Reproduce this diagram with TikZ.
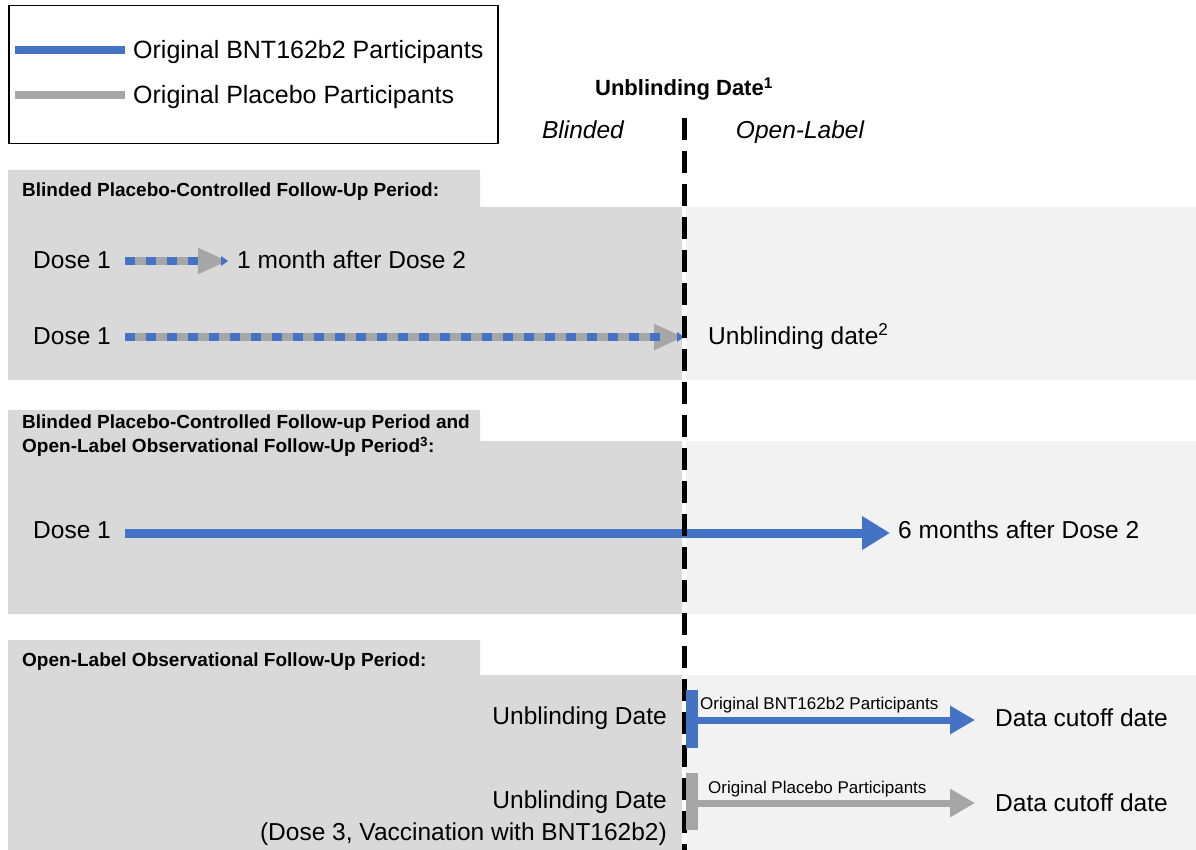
\documentclass[tikz,border=0pt]{standalone}
\usepackage{fontspec}
\setmainfont{Liberation Sans}
\usetikzlibrary{arrows.meta}
\definecolor{bntblue}{HTML}{4472C4}
\definecolor{plgrey}{HTML}{A6A6A6}
\definecolor{darkbg}{HTML}{D9D9D9}
\definecolor{lightbg}{HTML}{F2F2F2}
\begin{document}
\begin{tikzpicture}[x=1pt,y=-1pt,
  maintxt/.style={font=\fontsize{24.5}{28}\selectfont, inner sep=0pt, text height=17.5pt, text depth=0pt},
  legtxt/.style={font=\fontsize{25}{28}\selectfont, inner sep=0pt, text height=17.9pt, text depth=0pt},
  headtxt/.style={font=\bfseries\fontsize{19}{22}\selectfont, inner sep=0pt, text height=13.6pt, text depth=0pt, anchor=west},
  smalltxt/.style={font=\fontsize{17}{20}\selectfont, inner sep=0pt, text height=12.2pt, text depth=0pt},
  ittxt/.style={font=\itshape\fontsize{24.5}{28}\selectfont, inner sep=0pt, text height=17.5pt, text depth=0pt},
  darkpanel/.style={fill=darkbg, draw=none},
  lightpanel/.style={fill=lightbg, draw=none},
  bigblue/.style={draw=bntblue, line width=9pt, -{Triangle[length=28pt,width=32pt]}, color=bntblue},
  midblue/.style={draw=bntblue, line width=7pt, -{Triangle[length=25pt,width=27pt]}, color=bntblue},
  midgrey/.style={draw=plgrey, line width=7pt, -{Triangle[length=25pt,width=27pt]}, color=plgrey},
  greybase/.style={draw=plgrey, line width=8pt, -{Triangle[length=30pt,width=24pt]}, color=plgrey},
  bluedash/.style={draw=bntblue, line width=8pt, dash pattern=on 10pt off 11pt},
  bluetip/.style={fill=bntblue, draw=none},
  legline/.style={line width=8pt},
  divider/.style={draw=black, line width=5pt, dash pattern=on 22pt off 11pt}
]
\useasboundingbox (0,0) rectangle (1196,850);

% ---------- panels ----------
\fill[darkpanel] (8,170) -- (480,170) -- (480,207) -- (682,207) -- (682,380) -- (8,380) -- cycle;
\fill[lightpanel] (686,207) rectangle (1196,380);
\fill[darkpanel] (8,410) -- (480,410) -- (480,441) -- (682,441) -- (682,614) -- (8,614) -- cycle;
\fill[lightpanel] (686,441) rectangle (1196,614);
\fill[darkpanel] (8,640) -- (480,640) -- (480,675) -- (682,675) -- (682,850) -- (8,850) -- cycle;
\fill[lightpanel] (686,675) rectangle (1196,850);

% ---------- legend ----------
\node[draw=black, line width=1.5pt, minimum width=489pt, minimum height=138pt, inner sep=0pt, anchor=north west] (legend) at (8,5) {};
\coordinate (lb1) at (15,50); \coordinate (lb2) at (125,50);
\coordinate (lg1) at (15,95); \coordinate (lg2) at (125,95);
\draw[legline, bntblue] (lb1) -- (lb2);
\draw[legline, plgrey] (lg1) -- (lg2);
\node[legtxt, anchor=west] (legbnt) at (133,50) {Original BNT162b2 Participants};
\node[legtxt, anchor=west] (legpl) at (133,95) {Original Placebo Participants};

% ---------- unblinding header ----------
\node[font=\bfseries\fontsize{22}{26}\selectfont, inner sep=0pt, text height=15.8pt, text depth=0pt] (ubd) at (684,88) {Unblinding Date\textsuperscript{1}};
\node[ittxt] (blinded) at (583,130) {Blinded};
\node[ittxt] (openlabel) at (800,130) {Open-Label};

% ---------- section 1 ----------
\node[headtxt] (h1) at (22,190) {Blinded Placebo-Controlled Follow-Up Period:};
\node[maintxt, anchor=west] (d1a) at (33,260) {Dose 1};
\node[maintxt, anchor=west] (m1) at (237,260) {1 month after Dose 2};
\coordinate (a1s) at (125,261); \coordinate (a1e) at (228,261); \coordinate (a1d) at (200,261);
\draw[greybase] (a1s) -- (a1e);
\draw[bluedash] (a1s) -- (a1d);
\fill[bluetip] (a1e) -- ++(-7,-5) -- ++(0,10) -- cycle;

\node[maintxt, anchor=west] (d1b) at (33,336) {Dose 1};
\node[maintxt, anchor=west] (ub2) at (708,336) {Unblinding date\textsuperscript{2}};
\coordinate (a2s) at (125,337); \coordinate (a2e) at (684,337); \coordinate (a2d) at (660,337);
\draw[greybase] (a2s) -- (a2e);
\draw[bluedash] (a2s) -- (a2d);
\fill[bluetip] (a2e) -- ++(-7,-5) -- ++(0,10) -- cycle;

% ---------- section 2 ----------
\node[headtxt] (h2a) at (22,422) {Blinded Placebo-Controlled Follow-up Period and};
\node[headtxt] (h2b) at (22,446) {Open-Label Observational Follow-Up Period\textsuperscript{3}:};
\node[maintxt, anchor=west] (d1c) at (33,530) {Dose 1};
\node[maintxt, anchor=west] (six) at (898,530) {6 months after Dose 2};
\coordinate (a3s) at (125,533); \coordinate (a3e) at (890,533);
\draw[bigblue] (a3s) -- (a3e);

% ---------- section 3 ----------
\node[headtxt] (h3) at (22,660) {Open-Label Observational Follow-Up Period:};
\node[maintxt, anchor=east] (ubA) at (667,716) {Unblinding Date};
\node[maintxt, anchor=east] (ubB) at (667,800) {Unblinding Date};
\node[maintxt, anchor=east] (ubC) at (667,832) {(Dose 3, Vaccination with BNT162b2)};

% ---------- dashed divider ----------
\coordinate (divtop) at (684,118);
\coordinate (divbot) at (684,850);
\draw[divider] (divtop) -- (divbot);

% bars and arrows in section 3
\node[fill=bntblue, minimum width=12pt, minimum height=58pt, inner sep=0pt, anchor=north west] (barb) at (686,690) {};
\node[fill=plgrey, minimum width=12pt, minimum height=57pt, inner sep=0pt, anchor=north west] (barg) at (686,773) {};
\node[maintxt, anchor=west] (dcA) at (995,718) {Data cutoff date};
\node[maintxt, anchor=west] (dcB) at (995,803) {Data cutoff date};
\coordinate (a4e) at (975,720);
\coordinate (a5e) at (975,803);
\draw[midblue] (barb.east |- a4e) -- (a4e);
\draw[midgrey] (barg.east |- a5e) -- (a5e);
\node[smalltxt, anchor=west] (lblb) at (700,703) {Original BNT162b2 Participants};
\node[smalltxt, anchor=west] (lblg) at (708,787) {Original Placebo Participants};
\end{tikzpicture}
\end{document}
